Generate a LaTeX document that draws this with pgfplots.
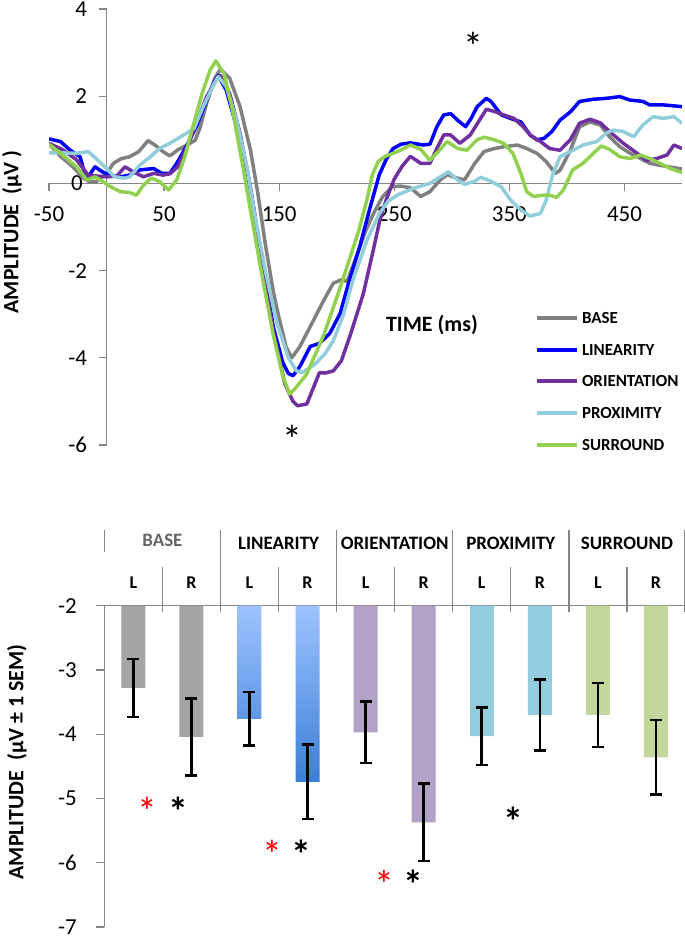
\documentclass[border=0pt]{standalone}
\usepackage{fontspec}
\setmainfont{Carlito}
\usepackage{pgfplots}
\pgfplotsset{compat=1.18}
\usepackage{pgfplotstable}

\definecolor{cbase}{HTML}{808080}
\definecolor{clin}{HTML}{0000FF}
\definecolor{cori}{HTML}{7030A0}
\definecolor{cprox}{HTML}{92CDDC}
\definecolor{csur}{HTML}{92D050}
\definecolor{axgray}{HTML}{868686}
\definecolor{bbase}{HTML}{A5A5A5}
\definecolor{blintop}{HTML}{9DC3FF}
\definecolor{blinbot}{HTML}{3C7ED6}
\definecolor{bori}{HTML}{B3A2C7}
\definecolor{bprox}{HTML}{93CDDD}
\definecolor{bsur}{HTML}{C3D69B}

\pgfplotstableread{
x amp sem
0 -3.28 0.45
1 -4.04 0.60
}\tabBase
\pgfplotstableread{
x amp sem
2 -3.76 0.42
3 -4.74 0.58
}\tabLin
\pgfplotstableread{
x amp sem
4 -3.97 0.48
5 -5.37 0.60
}\tabOri
\pgfplotstableread{
x amp sem
6 -4.03 0.45
7 -3.70 0.55
}\tabProx
\pgfplotstableread{
x amp sem
8 -3.70 0.50
9 -4.36 0.58
}\tabSur
\pgfplotstableread{
x amp
0.24 -5.10
2.39 -5.77
4.32 -6.24
}\tabRedStar
\pgfplotstableread{
x amp
0.78 -5.10
2.89 -5.77
4.82 -6.24
6.54 -5.26
}\tabBlackStar

\pgfplotsset{
  star/.style={only marks, mark=none, nodes near coords={*},
    every node near coord/.append style={font=\fontsize{40}{40}\selectfont,
      anchor=center, inner sep=0pt, yshift=-6bp}},
  bstar/.style={only marks, mark=none, nodes near coords={*},
    every node near coord/.append style={font=\bfseries\fontsize{40}{40}\selectfont,
      anchor=center, inner sep=0pt, yshift=-6bp}},
  barerr/.style={error bars/.cd, y dir=both, y explicit,
    error bar style={black, line width=2.6bp},
    error mark options={black, line width=2.6bp, mark size=6bp, rotate=90}},
}

\begin{document}
\begin{tikzpicture}
\path[use as bounding box] (0,0) rectangle (685bp,939bp);

% ---------------- top: waveforms ----------------
\begin{axis}[
  at={(49bp,494bp)}, anchor=south west,
  scale only axis, width=633bp, height=436bp,
  xmin=-50, xmax=500, ymin=-6, ymax=4,
  axis lines=middle,
  axis line style={-, draw=axgray, line width=1.3bp},
  xtick={-50,50,150,250,350,450},
  xticklabels={-50,50,150,250,350,450},
  ytick={-6,-4,-2,0,2,4},
  yticklabels={-6,-4,-2,0,2,4},
  tick align=outside,
  major tick length=8bp,
  tick style={draw=axgray, line width=1.3bp},
  tick label style={font=\fontsize{23}{23}\selectfont},
  xticklabel style={yshift=-12bp},
  yticklabel style={xshift=-8bp},
  no markers,
  every axis plot/.append style={line width=3.5bp, line join=round},
  legend image code/.code={\draw[#1, line width=4bp] (0bp,0bp) -- (40bp,0bp);},
  legend cell align=left,
  legend style={at={(axis description cs:0.7678,0.3039)}, anchor=north west,
    draw=none, fill=none, inner sep=0pt, outer sep=0pt,
    row sep=20.7bp, column sep=3bp,
    font=\bfseries\fontsize{17}{17}\selectfont,
    nodes={inner sep=0pt, text height=11bp, text depth=0bp}},
]
\node[anchor=east, inner sep=0pt, font=\fontsize{23}{23}\selectfont, xshift=-23.5bp] at (axis cs:0,0) {0};
\addplot[cbase] table {
t y
-50 0.90
-40 0.62
-30 0.40
-20 0.12
-15 0.04
-9 0.04
0 0.23
6 0.46
13 0.57
20 0.61
28 0.73
36 0.98
42 0.88
49 0.73
55 0.63
62 0.77
70 0.88
77 0.99
81 1.26
87 1.84
94 2.41
99 2.62
107 2.41
116 1.76
125 0.77
131 -0.15
138 -1.40
145 -2.50
150 -3.10
156 -3.75
161 -4.00
168 -3.74
180 -3.13
189 -2.67
197 -2.29
204 -2.21
209 -2.25
217 -1.68
225 -1.10
232 -0.69
240 -0.30
248 -0.08
255 -0.06
264 -0.10
273 -0.30
281 -0.19
290 0.08
296 0.20
305 0.12
311 0.08
320 0.46
328 0.73
337 0.80
345 0.84
357 0.88
365 0.80
374 0.69
382 0.50
390 0.23
394 0.30
403 0.76
411 1.30
420 1.41
429 1.34
437 1.07
446 0.84
455 0.69
464 0.57
472 0.46
484 0.40
500 0.33
};
\addplot[clin] table {
t y
-50 1.02
-40 0.96
-32 0.77
-23 0.61
-19 0.23
-16 0.15
-10 0.38
-4 0.27
3 0.19
12 0.15
20 0.19
29 0.31
41 0.34
48 0.23
55 0.23
61 0.46
70 0.88
78 1.30
87 1.91
94 2.35
97 2.47
104 2.14
113 1.30
122 0.31
128 -0.60
135 -1.80
145 -3.30
153 -4.10
158 -4.36
162 -4.41
168 -4.20
177 -3.74
185 -3.67
194 -3.44
203 -2.98
211 -2.22
220 -1.45
229 -0.55
237 0.20
243 0.55
249 0.80
256 0.90
264 0.93
275 0.88
281 0.90
287 1.30
293 1.57
299 1.60
305 1.45
312 1.30
317 1.50
322 1.76
330 1.95
334 1.88
343 1.57
351 1.49
360 1.41
368 1.11
374 1.00
380 1.03
387 1.19
394 1.45
403 1.64
411 1.88
423 1.93
434 1.95
446 1.99
455 1.91
466 1.88
472 1.80
484 1.80
500 1.76
};
\addplot[cori] table {
t y
-50 0.92
-38 0.77
-26 0.54
-16 0.19
-9 0.17
0 0.15
9 0.17
16 0.38
23 0.27
32 0.15
41 0.23
49 0.19
55 0.22
62 0.38
70 0.84
78 1.38
87 1.99
96 2.41
99 2.47
107 2.06
116 1.15
125 -0.08
135 -1.80
145 -3.40
155 -4.60
162 -5.00
166 -5.10
174 -5.06
185 -4.34
190 -4.35
197 -4.30
204 -4.07
212 -3.46
223 -2.54
231 -1.62
238 -0.78
244 -0.30
250 0.10
257 0.40
264 0.62
273 0.46
281 0.46
287 0.80
293 1.11
299 1.11
307 0.92
316 1.11
325 1.49
330 1.70
337 1.65
345 1.57
354 1.49
362 1.30
368 1.11
377 0.96
385 0.80
394 0.76
403 1.00
411 1.38
420 1.47
429 1.39
437 1.19
449 0.92
461 0.69
469 0.53
478 0.57
487 0.65
493 0.88
500 0.80
};
\addplot[cprox] table {
t y
-50 0.70
-40 0.70
-26 0.69
-16 0.73
-9 0.57
0 0.34
7 0.15
15 0.12
20 0.15
29 0.42
38 0.61
46 0.80
55 0.92
62 1.03
70 1.16
76 1.26
84 1.76
93 2.26
97 2.45
104 2.22
113 1.45
122 0.38
128 -0.61
138 -2.00
148 -3.20
158 -4.00
165 -4.30
170 -4.34
181 -4.15
190 -3.90
197 -3.61
206 -3.00
214 -2.22
226 -1.32
237 -0.69
245 -0.40
254 -0.25
267 -0.11
281 0.00
290 0.15
297 0.27
305 0.08
311 -0.02
320 0.05
325 0.14
334 0.05
343 -0.08
351 -0.38
360 -0.61
368 -0.75
377 -0.69
382 -0.38
388 0.23
394 0.61
403 0.73
414 0.88
426 0.96
434 1.15
440 1.22
449 1.19
458 1.07
466 1.34
475 1.53
484 1.49
493 1.53
500 1.38
};
\addplot[csur] table {
t y
-50 0.90
-40 0.69
-26 0.38
-17 0.08
-10 0.15
-3 0.04
3 -0.07
12 -0.19
20 -0.21
26 -0.27
32 -0.04
39 0.12
46 0.04
54 -0.15
61 0.08
68 0.61
75 1.30
83 2.06
90 2.60
95 2.81
102 2.52
110 1.61
119 0.31
125 -0.61
135 -2.10
145 -3.50
153 -4.40
159 -4.83
164 -4.70
174 -4.37
189 -3.46
204 -2.31
219 -1.10
226 -0.40
231 0.20
236 0.50
242 0.62
250 0.70
257 0.78
264 0.88
273 0.78
281 0.53
290 0.78
296 0.96
305 0.80
313 0.76
322 1.00
328 1.06
337 1.00
345 0.92
353 0.69
360 0.23
365 -0.19
371 -0.30
380 -0.27
385 -0.27
391 -0.32
397 -0.15
405 0.31
414 0.46
423 0.69
430 0.86
437 0.78
446 0.61
455 0.57
464 0.65
472 0.57
481 0.46
490 0.34
500 0.25
};
\legend{BASE,LINEARITY,ORIENTATION,PROXIMITY,SURROUND}
\addplot[forget plot, star, black] coordinates {(319,3.29) (161.5,-5.73)};
\end{axis}

\node[font=\bfseries\fontsize{22}{22}\selectfont] at (432bp,614bp) {TIME (ms)};
\node[rotate=90, font=\bfseries\fontsize{22}{22}\selectfont] at (12bp,707bp) {AMPLITUDE\ \ (µV )};

% ---------------- bottom: bars ----------------
\begin{axis}[
  at={(104.3bp,12bp)}, anchor=south west,
  scale only axis, width=580.7bp, height=321.3bp,
  xmin=-0.5, xmax=9.5, ymin=-5, ymax=0,
  axis x line*=top, axis y line*=left,
  axis line style={-, draw=axgray, line width=1.3bp},
  xtick=\empty,
  ytick={-5,-4,-3,-2,-1,0},
  yticklabels={-7,-6,-5,-4,-3,-2},
  tick align=outside,
  major tick length=8bp,
  tick style={draw=axgray, line width=1.3bp},
  tick label style={font=\fontsize{23}{23}\selectfont},
  yticklabel style={xshift=-16bp},
  clip=false,
]
\addplot[ybar, bar width=24bp, bar shift=0pt, draw=none, fill=bbase, barerr]
  table[x=x, y expr=\thisrow{amp}+2, y error=sem] {\tabBase};
\addplot[ybar, bar width=24bp, bar shift=0pt, draw=none, top color=blintop, bottom color=blinbot, barerr]
  table[x=x, y expr=\thisrow{amp}+2, y error=sem] {\tabLin};
\addplot[ybar, bar width=24bp, bar shift=0pt, draw=none, fill=bori, barerr]
  table[x=x, y expr=\thisrow{amp}+2, y error=sem] {\tabOri};
\addplot[ybar, bar width=24bp, bar shift=0pt, draw=none, fill=bprox, barerr]
  table[x=x, y expr=\thisrow{amp}+2, y error=sem] {\tabProx};
\addplot[ybar, bar width=24bp, bar shift=0pt, draw=none, fill=bsur, barerr]
  table[x=x, y expr=\thisrow{amp}+2, y error=sem] {\tabSur};

\addplot[star, red] table[x=x, y expr=\thisrow{amp}+2] {\tabRedStar};
\addplot[bstar, black] table[x=x, y expr=\thisrow{amp}+2] {\tabBlackStar};

% header: category separators
\draw[axgray, line width=1.3bp] (axis cs:0.5,0.60) -- (axis cs:0.5,-0.10);
\draw[axgray, line width=1.3bp] (axis cs:2.5,0.60) -- (axis cs:2.5,-0.10);
\draw[axgray, line width=1.3bp] (axis cs:4.5,0.60) -- (axis cs:4.5,-0.10);
\draw[axgray, line width=1.3bp] (axis cs:6.5,0.60) -- (axis cs:6.5,-0.10);
\draw[axgray, line width=1.3bp] (axis cs:8.5,0.60) -- (axis cs:8.5,-0.10);
\draw[axgray, line width=1.3bp] (axis cs:1.5,1.18) -- (axis cs:1.5,-0.10);
\draw[axgray, line width=1.3bp] (axis cs:3.5,1.18) -- (axis cs:3.5,-0.10);
\draw[axgray, line width=1.3bp] (axis cs:5.5,1.18) -- (axis cs:5.5,-0.10);
\draw[axgray, line width=1.3bp] (axis cs:7.5,1.18) -- (axis cs:7.5,-0.10);
\draw[axgray, line width=1.3bp] (axis cs:9.5,1.18) -- (axis cs:9.5,-0.10);
\draw[axgray, line width=1.3bp] (axis cs:-0.5,1.18) -- (axis cs:-0.5,0.84);
% header labels
\node[font=\bfseries\fontsize{19}{19}\selectfont, text=black!60] at (axis cs:0.5,1.02) {BASE};
\node[font=\bfseries\fontsize{19}{19}\selectfont] at (axis cs:2.5,0.975) {LINEARITY};
\node[font=\bfseries\fontsize{19}{19}\selectfont] at (axis cs:4.5,0.975) {ORIENTATION};
\node[font=\bfseries\fontsize{19}{19}\selectfont] at (axis cs:6.5,0.975) {PROXIMITY};
\node[font=\bfseries\fontsize{19}{19}\selectfont] at (axis cs:8.5,0.975) {SURROUND};
\node[font=\bfseries\fontsize{18}{18}\selectfont] at (axis cs:0,0.353) {L};
\node[font=\bfseries\fontsize{18}{18}\selectfont] at (axis cs:1,0.353) {R};
\node[font=\bfseries\fontsize{18}{18}\selectfont] at (axis cs:2,0.353) {L};
\node[font=\bfseries\fontsize{18}{18}\selectfont] at (axis cs:3,0.353) {R};
\node[font=\bfseries\fontsize{18}{18}\selectfont] at (axis cs:4,0.353) {L};
\node[font=\bfseries\fontsize{18}{18}\selectfont] at (axis cs:5,0.353) {R};
\node[font=\bfseries\fontsize{18}{18}\selectfont] at (axis cs:6,0.353) {L};
\node[font=\bfseries\fontsize{18}{18}\selectfont] at (axis cs:7,0.353) {R};
\node[font=\bfseries\fontsize{18}{18}\selectfont] at (axis cs:8,0.353) {L};
\node[font=\bfseries\fontsize{18}{18}\selectfont] at (axis cs:9,0.353) {R};
\end{axis}

\node[rotate=90, font=\bfseries\fontsize{22}{22}\selectfont] at (17bp,177bp) {AMPLITUDE\ \ (µV ± 1 SEM)};
\end{tikzpicture}
\end{document}
